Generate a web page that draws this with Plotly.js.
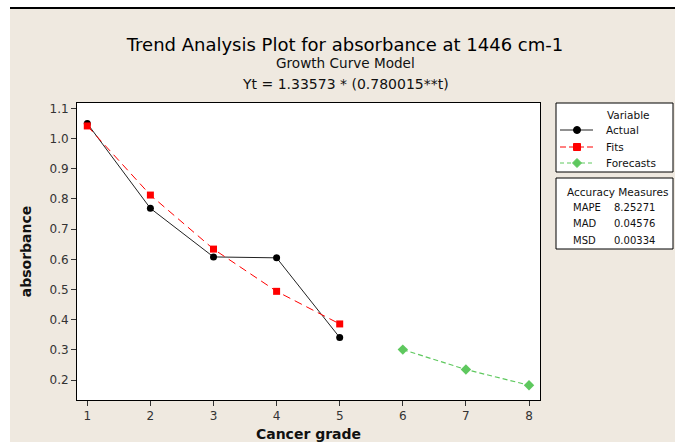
<!DOCTYPE html>
<html>
<head>
<meta charset="utf-8">
<script src="https://cdn.plot.ly/plotly-3.0.1.min.js"></script>
<style>
html,body{margin:0;padding:0;background:#ffffff;width:675px;height:442px;overflow:hidden;}
#frame{position:absolute;left:10px;top:7px;width:665px;height:435px;border-top:2px solid #000;background:#EFE9E0;}
#chart{width:665px;height:433px;}
</style>
</head>
<body>
<div id="frame"><div id="chart"></div></div>
<script>
// Data
const gradeActual = [1, 2, 3, 4, 5];
const actualValues = [1.050, 0.769, 0.608, 0.605, 0.341];
const gradeFits = [1, 2, 3, 4, 5];
const fitValues = [1.042, 0.813, 0.634, 0.494, 0.386];
const gradeForecast = [6, 7, 8];
const forecastValues = [0.301, 0.235, 0.183];
const xTicks = [1, 2, 3, 4, 5, 6, 7, 8];
const yTicks = [0.2, 0.3, 0.4, 0.5, 0.6, 0.7, 0.8, 0.9, 1.0, 1.1];
const seriesNames = ["Actual", "Fits", "Forecasts"];
const accuracyNames = ["MAPE", "MAD", "MSD"];
const accuracyValues = ["8.25271", "0.04576", "0.00334"];

const FONT = "DejaVu Sans, Verdana, sans-serif";
const COL_ACT = "#000000", COL_FIT = "#FF0000", COL_FC = "#5EC85E";

const traces = [
  {x: gradeActual, y: actualValues, name: seriesNames[0], mode: "lines+markers",
   line: {color: "#222222", width: 1}, marker: {color: COL_ACT, symbol: "circle", size: 7}},
  {x: gradeFits, y: fitValues, name: seriesNames[1], mode: "lines+markers",
   line: {color: COL_FIT, width: 1, dash: "8px,5px"}, marker: {color: COL_FIT, symbol: "square", size: 7}},
  {x: gradeForecast, y: forecastValues, name: seriesNames[2], mode: "lines+markers",
   line: {color: COL_FC, width: 1.2, dash: "5px,3px"}, marker: {color: COL_FC, symbol: "diamond", size: 8}}
];

const L = 67, T = 94, W = 463, H = 297;
const px = v => (v - L) / W;
const py = v => (T + H - v) / H;

const annotations = [
  {text: "Growth Curve Model", x: px(335), y: py(54), xref: "paper", yref: "paper", showarrow: false,
   xanchor: "center", yanchor: "middle", font: {family: FONT, size: 13.6, color: "#111"}},
  {text: "Yt = 1.33573 * (0.780015**t)", x: px(335), y: py(75), xref: "paper", yref: "paper", showarrow: false,
   xanchor: "center", yanchor: "middle", font: {family: FONT, size: 14, color: "#111"}},
  {text: "Variable", x: px(618), y: py(106), xref: "paper", yref: "paper", showarrow: false,
   xanchor: "center", yanchor: "middle", font: {family: FONT, size: 10.5, color: "#111"}},
  {text: "Accuracy Measures", x: px(607), y: py(183), xref: "paper", yref: "paper", showarrow: false,
   xanchor: "center", yanchor: "middle", font: {family: FONT, size: 10.5, color: "#111"}}
];
const rowY = [198, 214, 231];
accuracyNames.forEach((n, i) => {
  annotations.push({text: n, x: px(561), y: py(rowY[i]), xref: "paper", yref: "paper", showarrow: false,
    xanchor: "left", yanchor: "middle", font: {family: FONT, size: 10, color: "#111"}});
  annotations.push({text: accuracyValues[i], x: px(602), y: py(rowY[i]), xref: "paper", yref: "paper", showarrow: false,
    xanchor: "left", yanchor: "middle", font: {family: FONT, size: 10, color: "#111"}});
});

const shapes = [
  {type: "rect", xref: "paper", yref: "paper", x0: px(546), x1: px(663), y0: py(163), y1: py(94),
   line: {color: "#000", width: 1}, fillcolor: "#ffffff", layer: "below"},
  {type: "rect", xref: "paper", yref: "paper", x0: px(546), x1: px(663), y0: py(240), y1: py(169),
   line: {color: "#000", width: 1}, fillcolor: "#ffffff", layer: "below"}
];

// Custom legend entries (sample line + marker + label)
const legRows = [121, 138, 154];
const legStyles = [
  {color: COL_ACT, dash: "solid", lineColor: "#222", kind: "circle"},
  {color: COL_FIT, dash: "6px,3px", lineColor: COL_FIT, kind: "square"},
  {color: COL_FC, dash: "4px,3px", lineColor: COL_FC, kind: "diamond"}
];
legRows.forEach((ry, i) => {
  const s = legStyles[i];
  shapes.push({type: "line", xref: "paper", yref: "paper", x0: px(550), x1: px(583), y0: py(ry), y1: py(ry),
    line: {color: s.lineColor, width: 1, dash: s.dash}});
  const base = {xref: "paper", yref: "paper", xsizemode: "pixel", ysizemode: "pixel",
    xanchor: px(567), yanchor: py(ry), fillcolor: s.color, line: {color: s.color, width: 1}};
  if (s.kind === "circle") shapes.push(Object.assign({type: "circle", x0: -3.5, x1: 3.5, y0: -3.5, y1: 3.5}, base));
  else if (s.kind === "square") shapes.push(Object.assign({type: "rect", x0: -3.5, x1: 3.5, y0: -3.5, y1: 3.5}, base));
  else shapes.push(Object.assign({type: "path", path: "M0,4.5 L4.5,0 L0,-4.5 L-4.5,0 Z"}, base));
  annotations.push({text: seriesNames[i], x: px(594), y: py(ry), xref: "paper", yref: "paper", showarrow: false,
    xanchor: "left", yanchor: "middle", font: {family: FONT, size: 10.5, color: "#111"}});
});

const layout = {
  width: 665, height: 433,
  margin: {l: L, r: 665 - L - W, t: T, b: 433 - T - H},
  paper_bgcolor: "#EFE9E0",
  plot_bgcolor: "#ffffff",
  font: {family: FONT, size: 12, color: "#333"},
  title: {text: "Trend Analysis Plot for absorbance at 1446 cm-1", x: px(335), xref: "paper", xanchor: "center",
          y: 1 - 36 / 433, yref: "container", yanchor: "middle", font: {family: FONT, size: 18, color: "#000"}},
  xaxis: {range: [0.837, 8.174], tickvals: xTicks, ticks: "outside", ticklen: 5, tickcolor: "#333",
          showgrid: false, zeroline: false, showline: true, linecolor: "#000", linewidth: 1, mirror: true,
          tickfont: {family: FONT, size: 12, color: "#333"},
          title: {text: "<b>Cancer grade</b>", standoff: 8, font: {family: FONT, size: 14, color: "#111"}}},
  yaxis: {range: [0.134, 1.118], tickvals: yTicks, tickformat: ".1f", ticks: "outside", ticklen: 5, tickcolor: "#333",
          showgrid: false, zeroline: false, showline: true, linecolor: "#000", linewidth: 1, mirror: true,
          tickfont: {family: FONT, size: 12, color: "#333"},
          title: {text: "<b>absorbance</b>", standoff: 14, font: {family: FONT, size: 14, color: "#111"}}},
  showlegend: false,
  annotations: annotations,
  shapes: shapes
};

Plotly.newPlot("chart", traces, layout, {displayModeBar: false, staticPlot: true});
</script>
</body>
</html>
